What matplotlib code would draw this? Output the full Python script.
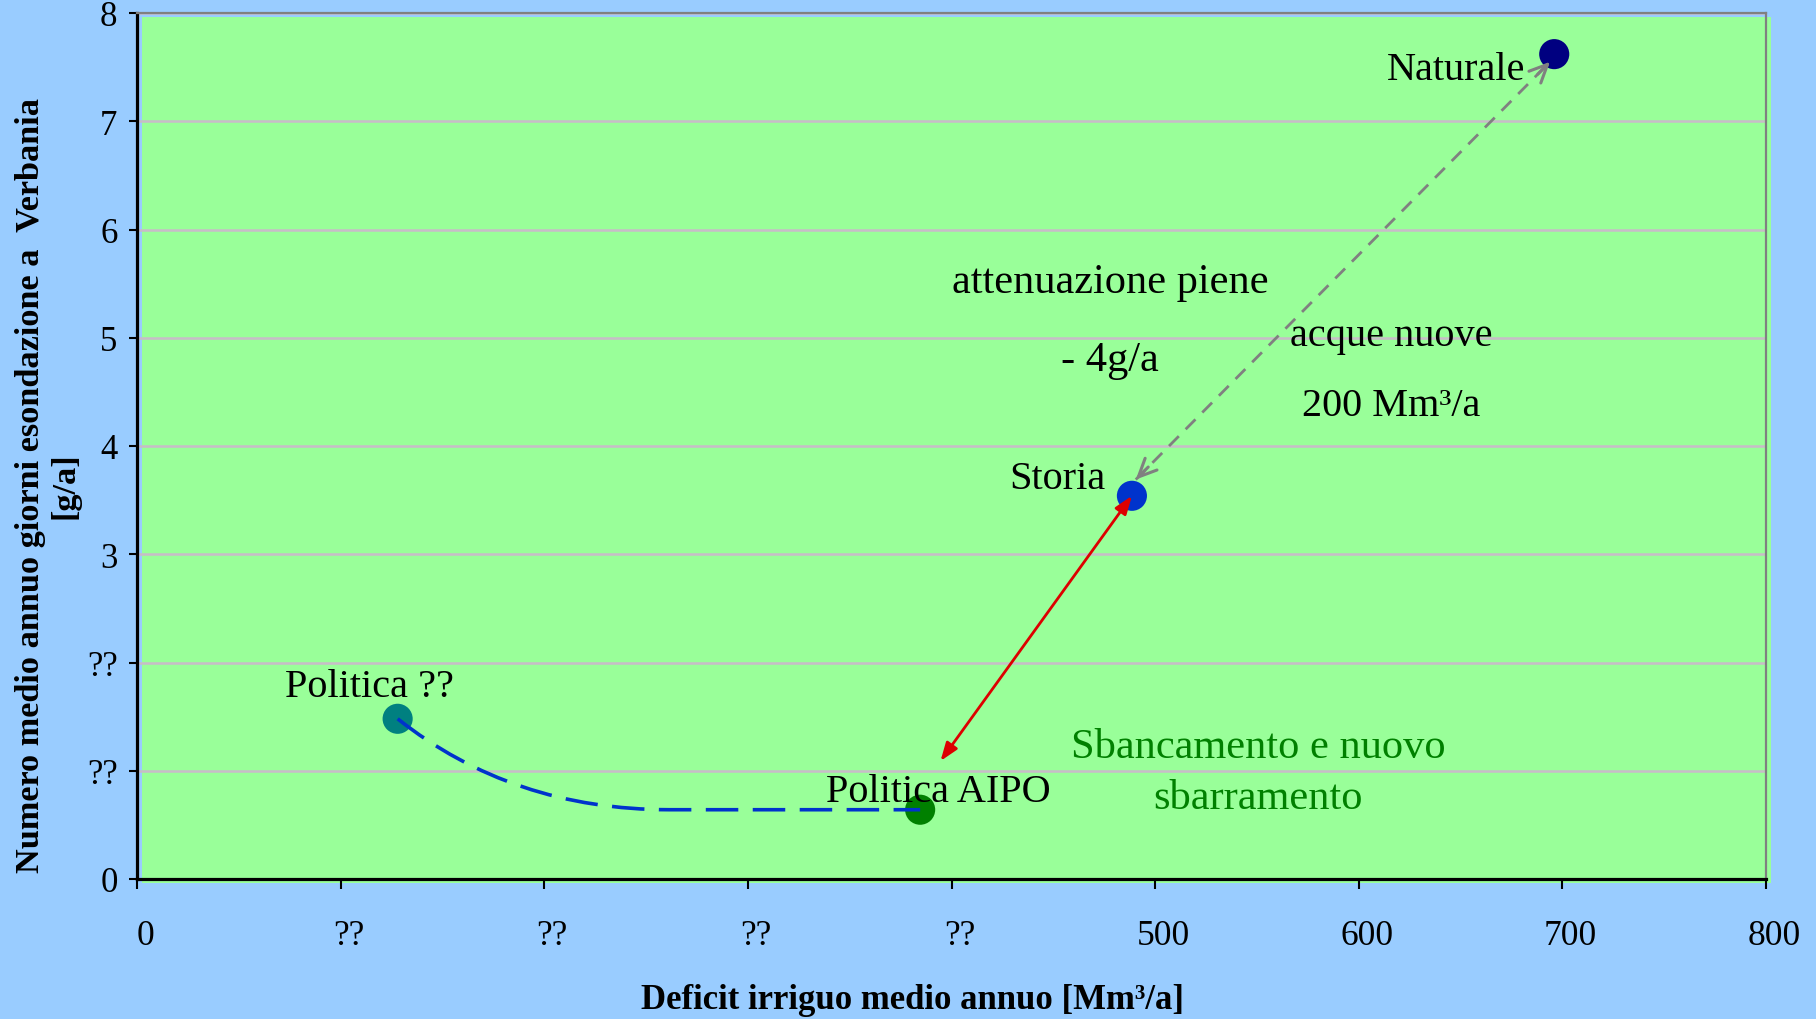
import matplotlib
matplotlib.use("Agg")
import matplotlib.pyplot as plt
from matplotlib.patches import Rectangle, PathPatch
from matplotlib.path import Path
from matplotlib.transforms import offset_copy, ScaledTranslation

# ---- data ----
point_names = ["Naturale", "Storia", "Politica ??", "Politica AIPO"]
deficit = [696, 488.6, 128, 384.6]          # Mm3/a
flood_days = [7.62, 3.54, 1.48, 0.64]       # g/a
point_colors = ["#000080", "#0033CC", "#008080", "#008000"]

label_x = [648, 452, 114, 393.6]
label_y = [7.48, 3.70, 1.78, 0.81]

x_ticks = [0, 100, 200, 300, 400, 500, 600, 700, 800]
x_ticklabels = ["0", "??", "??", "??", "??", "500", "600", "700", "800"]
y_ticks = [0, 1, 2, 3, 4, 5, 6, 7, 8]
y_ticklabels = ["0", "??", "??", "3", "4", "5", "6", "7", "8"]

red_arrow_end = (394.6, 1.09)
grey_arrow_start = (490.5, 3.69)
grey_arrow_end = (694, 7.55)

notes = [
    ("attenuazione piene", 478, 5.52, "black", 30.5),
    ("- 4g/a", 478, 4.80, "black", 30.5),
    ("acque nuove", 616, 5.02, "black", 29),
    ("200 Mm³/a", 616, 4.37, "black", 29),
    ("Sbancamento e nuovo", 550.6, 1.22, "#008000", 30.5),
    ("sbarramento", 550.6, 0.75, "#008000", 30.5),
]

plt.rcParams['font.family'] = ['Liberation Serif', 'DejaVu Serif']

fig = plt.figure(figsize=(18.16, 10.20), dpi=100, facecolor="#99CCFF")
ax = fig.add_axes([137/1816, 140/1020, 1629/1816, 866/1020])
ax.set_facecolor("none")

# green plot area, slightly offset like the original
green = Rectangle((0, 0), 1, 1, facecolor="#99FF99", edgecolor="none",
                  transform=offset_copy(ax.transAxes, fig=fig, x=5, y=-4, units="dots"),
                  zorder=0.1, clip_on=False)
ax.add_patch(green)

ax.set_xlim(0, 800)
ax.set_ylim(0, 8)
ax.set_xticks(x_ticks)
ax.set_xticklabels(x_ticklabels)
ax.set_yticks(y_ticks)
ax.set_yticklabels(y_ticklabels)
ax.tick_params(axis="x", length=7, width=1.5, pad=22, labelsize=25.5)
ax.tick_params(axis="y", length=6, width=1.5, pad=8, labelsize=25)
shift = ScaledTranslation(8/100, 0, fig.dpi_scale_trans)
for lbl in ax.get_xticklabels():
    lbl.set_transform(lbl.get_transform() + shift)

ax.yaxis.grid(True, color="#C8BCC8", lw=1.8)
ax.set_axisbelow(True)

for s in ["left", "bottom"]:
    ax.spines[s].set_color("black")
    ax.spines[s].set_linewidth(2.3)
for s in ["top", "right"]:
    ax.spines[s].set_color("#808080")
    ax.spines[s].set_linewidth(1.6)

# points
ax.scatter(deficit, flood_days, s=470, c=point_colors, zorder=3, linewidths=0)

for name, lx, ly in zip(point_names, label_x, label_y):
    ax.text(lx, ly, name, fontsize=29, ha="center", va="center", zorder=5)

for txt, tx, ty, col, fs in notes:
    ax.text(tx, ty, txt, fontsize=fs, ha="center", va="center", color=col, zorder=5)

nat = (deficit[0], flood_days[0])
sto = (deficit[1], flood_days[1])
pol = (deficit[2], flood_days[2])
aipo = (deficit[3], flood_days[3])

def along(a, b, f):
    return (a[0] + f * (b[0] - a[0]), a[1] + f * (b[1] - a[1]))

# grey dashed double arrow Storia <-> Naturale
ax.plot([grey_arrow_start[0], grey_arrow_end[0]], [grey_arrow_start[1], grey_arrow_end[1]],
        color="#808080", lw=2, linestyle=(0, (5, 3.5)), zorder=4)
for tip, other in [(grey_arrow_start, grey_arrow_end), (grey_arrow_end, grey_arrow_start)]:
    ax.annotate("", xy=tip, xytext=along(tip, other, 0.03),
                arrowprops=dict(arrowstyle="->,head_length=1.3,head_width=0.6",
                                color="#808080", lw=2.2, shrinkA=0, shrinkB=0),
                zorder=4)

# red double arrow Storia <-> Politica AIPO
ax.annotate("", xy=red_arrow_end, xytext=sto,
            arrowprops=dict(arrowstyle="<|-|>,head_length=1.1,head_width=0.4",
                            color="#DD0000", lw=2, shrinkA=0, shrinkB=0),
            zorder=4)

# blue dashed curve Politica ?? -> Politica AIPO
dx = aipo[0] - pol[0]
verts = [pol,
         (pol[0] + 0.22 * dx, aipo[1]),
         (pol[0] + 0.52 * dx, aipo[1]),
         aipo]
codes = [Path.MOVETO, Path.CURVE3, Path.CURVE3, Path.LINETO]
curve = PathPatch(Path(verts, codes), facecolor="none", edgecolor="#0033CC",
                  lw=2.6, linestyle=(0, (9, 4)), zorder=4)
ax.add_patch(curve)

ax.set_xlabel("Deficit irriguo medio annuo [Mm³/a]", fontsize=25, fontweight="bold", va="center")
ax.xaxis.set_label_coords(0.476, -0.139)
ax.set_ylabel("Numero medio annuo giorni esondazione a  Verbania\n[g/a]",
              fontsize=24.7, fontweight="bold", va="center", linespacing=1.15)
ax.yaxis.set_label_coords(-0.055, 0.455)

fig.savefig("out.png", dpi=100, facecolor=fig.get_facecolor())
